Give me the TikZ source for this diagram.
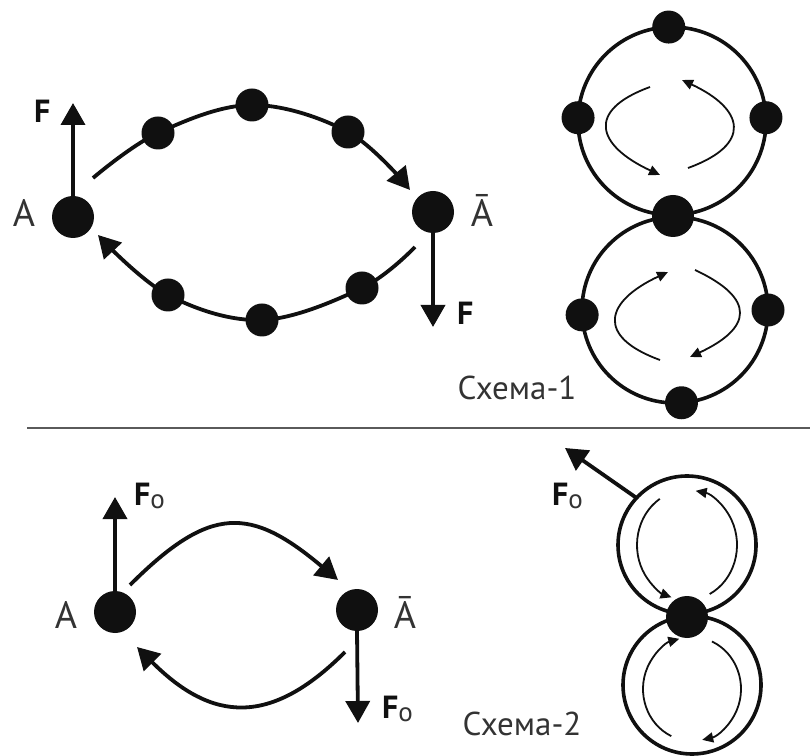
\documentclass[tikz,border=0pt]{standalone}
\usepackage{fontspec}
\setmainfont{PT Sans}
\usetikzlibrary{arrows.meta}
\definecolor{ink}{HTML}{101010}
\definecolor{txt}{HTML}{333333}
\definecolor{rulec}{HTML}{5A5A5A}
\newcommand\FoLabel{F\raisebox{-3pt}{\color{txt}\mdseries\fontsize{27}{27}\selectfont o}}
\begin{document}
\begin{tikzpicture}[x=1pt,y=1pt,
  dot/.style={circle,fill=ink,draw=none,inner sep=0pt,minimum size=33pt},
  bigdot/.style={dot,minimum size=42pt},
  lbl/.style={text=txt,font=\fontsize{38}{38}\selectfont,inner sep=0pt,anchor=base},
  flbl/.style={text=ink,font=\bfseries\fontsize{32}{32}\selectfont,inner sep=0pt,anchor=base west},
  caption/.style={text=txt,font=\fontsize{33}{33}\selectfont,inner sep=0pt,anchor=base},
  ring/.style={circle,draw=ink,line width=3.6pt,inner sep=0pt,outer sep=0pt},
  mainline/.style={draw=ink,line width=3.8pt},
  bigarrow/.style={mainline,-{Triangle[length=22pt,width=24pt]}},
  thinarrow/.style={draw=ink,line width=1.8pt,-{Triangle[length=11pt,width=10pt]}},
]
\useasboundingbox (0,0) rectangle (810,755);

% ---------- Scheme 1, left ----------
\node[bigdot] (A1) at (73,538) {};
\node[lbl] (A1l) at (24,528) {A};
\node[bigdot] (B1) at (433,543) {};
\node[lbl] (B1l) at (482,528) {Ā};
\coordinate (F1t) at (73,652);
\coordinate (F2t) at (433,428);
\draw[bigarrow] (A1.north) -- (F1t);
\draw[bigarrow] (B1.south) -- (F2t);
\node[flbl] (F1l) at (34,632) {F};
\node[flbl] (F2l) at (457,430) {F};

\coordinate (s1) at (93,577);
\node[dot] (d1) at (158,622) {};
\node[dot] (d2) at (252,650) {};
\node[dot] (d3) at (348,623) {};
\coordinate (e1) at (410,565);
\draw[bigarrow] plot[smooth,tension=0.6] coordinates {(s1) (d1.center) (d2.center) (d3.center) (e1)};

\coordinate (s2) at (415,508);
\node[dot] (d4) at (362,467) {};
\node[dot] (d5) at (262,435) {};
\node[dot] (d6) at (168,460) {};
\coordinate (e2) at (98,520);
\draw[bigarrow] plot[smooth,tension=0.6] coordinates {(s2) (d4.center) (d5.center) (d6.center) (e2)};

% ---------- Scheme 1, right ----------
\node[ring,minimum size=188pt] (R1) at (672,634) {};
\node[ring,minimum size=186pt] (R2) at (675,445) {};
\node[dot] (R1t) at (R1.92) {};
\node[dot] (R1l) at (R1.178) {};
\node[dot] (R1r) at (R1.2) {};
\node[bigdot] (Rm) at (673,539) {};
\node[dot] (R2l) at (R2.183) {};
\node[dot] (R2r) at (R2.0) {};
\node[dot] (R2b) at (R2.-86) {};

\coordinate (u1s) at (650,668); \coordinate (u1e) at (660,580);
\coordinate (u2s) at (688,587); \coordinate (u2e) at (682,675);
\coordinate (l1s) at (660,395); \coordinate (l1e) at (668,483);
\coordinate (l2s) at (695,485); \coordinate (l2e) at (690,398);
\draw[thinarrow] (u1s) to[out=200,in=155,looseness=2] (u1e);
\draw[thinarrow] (u2s) to[out=20,in=-25,looseness=2] (u2e);
\draw[thinarrow] (l1s) to[out=160,in=205,looseness=2] (l1e);
\draw[thinarrow] (l2s) to[out=-25,in=25,looseness=2] (l2e);

\node[caption] (cap1) at (517,355) {Схема-1};

% ---------- separator ----------
\draw[rulec,line width=2.4pt] (27,327) -- (810,327);

% ---------- Scheme 2, left ----------
\node[bigdot] (A2) at (115,143) {};
\node[lbl] (A2l) at (66,127) {A};
\node[bigdot] (B2) at (357,145) {};
\node[lbl] (B2l) at (405,127) {Ā};
\coordinate (F3t) at (115,258);
\coordinate (F4t) at (358,32);
\draw[bigarrow] (A2.north) -- (F3t);
\draw[bigarrow] (B2.south) -- (F4t);
\node[flbl] (F3l) at (134,250) {\FoLabel};
\node[flbl] (F4l) at (382,37) {\FoLabel};

\coordinate (s3) at (130,170); \coordinate (e3) at (338,175);
\coordinate (s4) at (345,103); \coordinate (e4) at (137,108);
\draw[bigarrow] (s3) to[out=45,in=140,looseness=1.4] (e3);
\draw[bigarrow] (s4) to[out=225,in=-45,looseness=1.3] (e4);

% ---------- Scheme 2, right ----------
\node[ring,minimum size=138pt] (S1) at (687,210) {};
\node[ring,minimum size=138pt] (S2) at (692,70) {};
\node[bigdot] (Sm) at (687,138) {};
\coordinate (F5t) at (565,307);
\draw[bigarrow] (S1.137) -- (F5t);
\node[flbl] (F5l) at (552,250) {\FoLabel};

\coordinate (c1) at (687,210);
\coordinate (c2) at (692,66);
\draw[thinarrow] ([shift={(123:50pt and 55pt)}]c1) arc[start angle=123,end angle=252,x radius=50pt,y radius=55pt];
\draw[thinarrow] ([shift={(-63:50pt and 55pt)}]c1) arc[start angle=-63,end angle=80,x radius=50pt,y radius=55pt];
\draw[thinarrow] ([shift={(245:49pt and 52pt)}]c2) arc[start angle=245,end angle=105,x radius=49pt,y radius=52pt];
\draw[thinarrow] ([shift={(66:49pt and 52pt)}]c2) arc[start angle=66,end angle=-78,x radius=49pt,y radius=52pt];

\node[caption] (cap2) at (522,20) {Схема-2};
\end{tikzpicture}
\end{document}
